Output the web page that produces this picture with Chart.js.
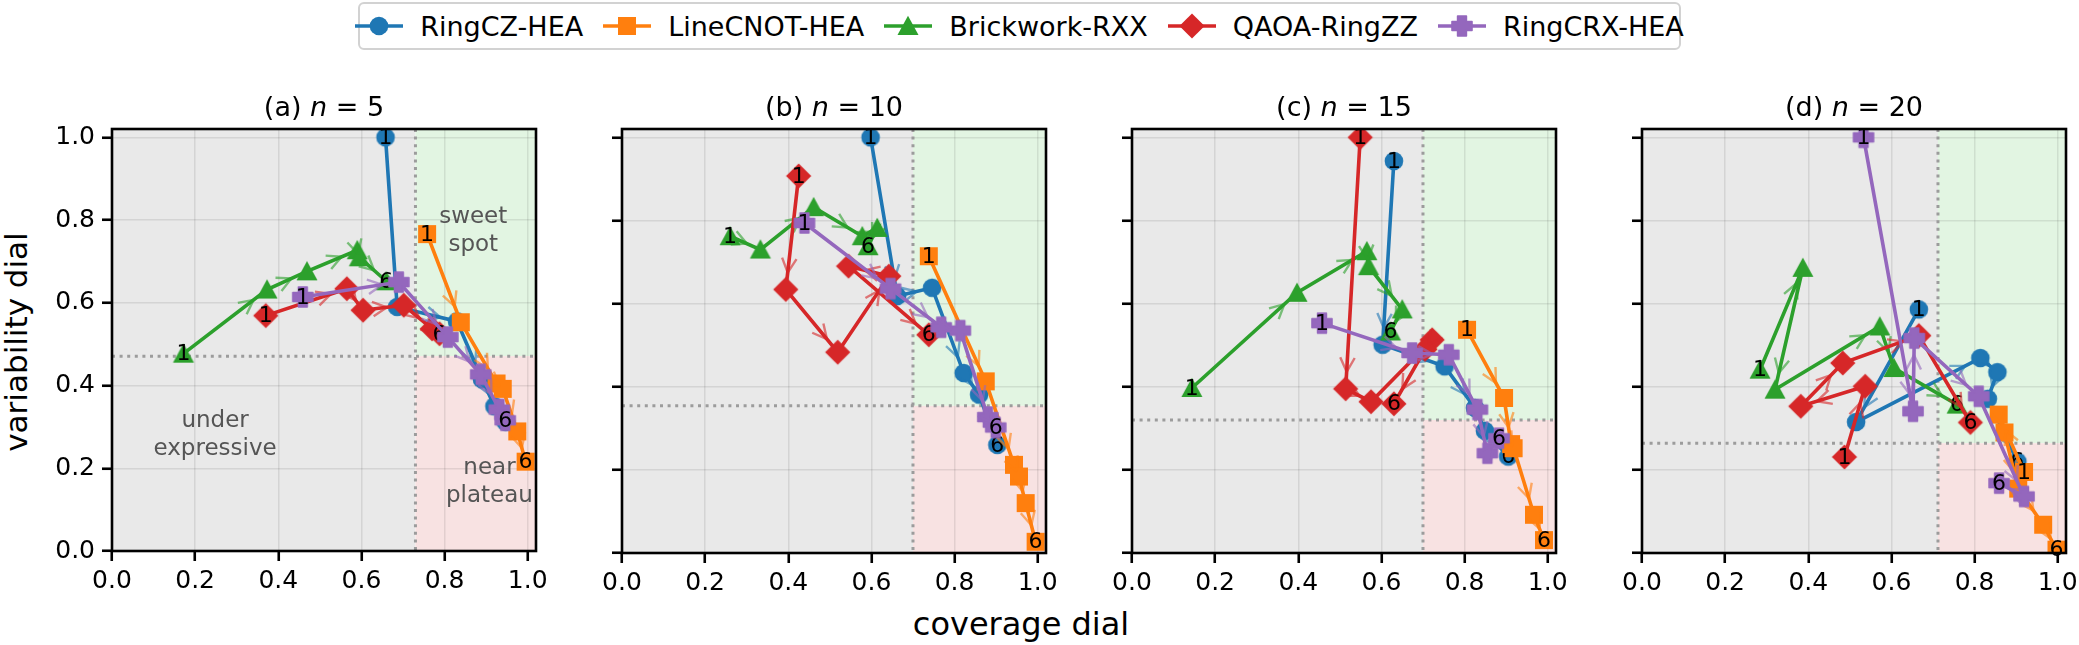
<!DOCTYPE html>
<html>
<head>
<meta charset="utf-8">
<script src="https://cdn.jsdelivr.net/npm/chart.js@4.4.1/dist/chart.umd.min.js"></script>
<style>
html,body{margin:0;padding:0;background:#fff;}
body{width:2079px;height:645px;position:relative;overflow:hidden;font-family:"DejaVu Sans",sans-serif;color:#000;}
canvas.panel{position:absolute;}
.title{position:absolute;top:93px;font-size:27px;line-height:27px;white-space:nowrap;transform:translateX(-50%);}
#legend{position:absolute;left:358px;top:2px;width:1323px;height:48px;box-sizing:border-box;border:2px solid #d2d2d2;border-radius:6px;display:flex;align-items:center;justify-content:center;background:#fff;}
.item{display:flex;align-items:center;margin-right:20px;}
.item:last-child{margin-right:0;}
.item span{font-size:27px;line-height:27px;margin-left:17px;white-space:nowrap;}
#ylabel{position:absolute;left:16px;top:342px;font-size:31px;line-height:31px;white-space:nowrap;transform:translate(-50%,-50%) rotate(-90deg);}
#xlabel{position:absolute;left:1021px;top:608px;font-size:32px;line-height:32px;white-space:nowrap;transform:translateX(-50%);}
</style>
</head>
<body>
<div id="legend"></div>
<div id="ylabel">variability dial</div>
<div id="xlabel">coverage dial</div>
<script>
// ---------------- data ----------------
const modelNames = ['RingCZ-HEA','LineCNOT-HEA','Brickwork-RXX','QAOA-RingZZ','RingCRX-HEA'];
const qubitCounts = [5, 10, 15, 20];
const panelLetters = ['a','b','c','d'];
const layerNumbers = [1, 2, 3, 4, 5, 6];
const tickLabels = ['0.0','0.2','0.4','0.6','0.8','1.0'];
const coverageThreshold = [0.730, 0.700, 0.700, 0.712];
const variabilityThreshold = [0.471, 0.354, 0.320, 0.264];

const ringCZCoverage = [
  [0.658,0.686,0.830,0.890,0.920,0.947],
  [0.598,0.662,0.746,0.822,0.859,0.903],
  [0.630,0.603,0.752,0.825,0.849,0.905],
  [0.666,0.515,0.814,0.855,0.832,0.903]];
const ringCZVariability = [
  [1.000,0.590,0.555,0.415,0.350,0.312],
  [1.000,0.618,0.638,0.433,0.381,0.260],
  [0.943,0.501,0.449,0.349,0.294,0.232],
  [0.586,0.315,0.469,0.435,0.371,0.220]];
const lineCNOTCoverage = [
  [0.758,0.839,0.925,0.940,0.975,0.995],
  [0.738,0.875,0.943,0.955,0.971,0.995],
  [0.806,0.895,0.912,0.918,0.967,0.991],
  [0.919,0.858,0.872,0.905,0.965,0.997]];
const lineCNOTVariability = [
  [0.766,0.553,0.405,0.392,0.289,0.216],
  [0.714,0.413,0.212,0.184,0.120,0.027],
  [0.537,0.373,0.262,0.252,0.092,0.031],
  [0.195,0.333,0.290,0.155,0.068,0.008]];
const brickworkCoverage = [
  [0.172,0.373,0.469,0.590,0.595,0.660],
  [0.260,0.333,0.461,0.578,0.614,0.592],
  [0.144,0.397,0.565,0.569,0.650,0.622],
  [0.284,0.387,0.320,0.572,0.606,0.758]];
const brickworkVariability = [
  [0.477,0.632,0.676,0.727,0.710,0.652],
  [0.762,0.730,0.832,0.762,0.782,0.738],
  [0.397,0.626,0.726,0.690,0.586,0.533],
  [0.441,0.686,0.393,0.545,0.445,0.357]];
const qaoaCoverage = [
  [0.370,0.565,0.604,0.702,0.770,0.788],
  [0.425,0.394,0.519,0.642,0.545,0.738],
  [0.549,0.514,0.575,0.722,0.705,0.630],
  [0.487,0.537,0.382,0.483,0.666,0.790]];
const qaoaVariability = [
  [0.569,0.634,0.582,0.594,0.537,0.525],
  [0.907,0.634,0.483,0.666,0.690,0.525],
  [1.000,0.395,0.364,0.513,0.490,0.359],
  [0.231,0.401,0.353,0.457,0.523,0.314]];
const ringCRXCoverage = [
  [0.459,0.690,0.808,0.887,0.932,0.946],
  [0.439,0.646,0.768,0.814,0.880,0.899],
  [0.457,0.674,0.762,0.831,0.855,0.883],
  [0.533,0.652,0.655,0.810,0.919,0.859]];
const ringCRXVariability = [
  [0.614,0.650,0.517,0.427,0.342,0.316],
  [0.794,0.636,0.543,0.535,0.327,0.302],
  [0.553,0.481,0.477,0.345,0.240,0.276],
  [1.000,0.341,0.517,0.377,0.136,0.168]];

// ---------------- styling ----------------
const seriesCoverage = [ringCZCoverage, lineCNOTCoverage, brickworkCoverage, qaoaCoverage, ringCRXCoverage];
const seriesVariability = [ringCZVariability, lineCNOTVariability, brickworkVariability, qaoaVariability, ringCRXVariability];
const colors = ['#1f77b4','#ff7f0e','#2ca02c','#d62728','#9467bd'];
const shapes = ['circle','square','triangle','diamond','plus'];
const FONT = '"DejaVu Sans", sans-serif';

function makeMarker(shape, color) {
  const S = 30, m = S / 2;
  const c = document.createElement('canvas');
  c.width = S; c.height = S;
  const g = c.getContext('2d');
  g.fillStyle = color;
  g.beginPath();
  if (shape === 'circle') { g.arc(m, m, 9.3, 0, Math.PI * 2); }
  else if (shape === 'square') { g.rect(m - 9, m - 9, 18, 18); }
  else if (shape === 'triangle') { g.moveTo(m, m - 10.2); g.lineTo(m + 10.5, m + 9); g.lineTo(m - 10.5, m + 9); g.closePath(); }
  else if (shape === 'diamond') { g.moveTo(m, m - 12.6); g.lineTo(m + 12.6, m); g.lineTo(m, m + 12.6); g.lineTo(m - 12.6, m); g.closePath(); }
  else if (shape === 'plus') {
    const a = 10, t = 4.4;
    g.moveTo(m - t, m - a); g.lineTo(m + t, m - a); g.lineTo(m + t, m - t); g.lineTo(m + a, m - t);
    g.lineTo(m + a, m + t); g.lineTo(m + t, m + t); g.lineTo(m + t, m + a); g.lineTo(m - t, m + a);
    g.lineTo(m - t, m + t); g.lineTo(m - a, m + t); g.lineTo(m - a, m - t); g.lineTo(m - t, m - t); g.closePath();
  }
  g.fill();
  if (shape === 'plus') { g.strokeStyle = color; g.lineWidth = 1.6; g.lineJoin = 'round'; g.stroke(); }
  return c;
}
const markers = shapes.map((s, i) => makeMarker(s, colors[i]));

function rgba(hex, a) {
  const n = parseInt(hex.slice(1), 16);
  return `rgba(${(n >> 16) & 255},${(n >> 8) & 255},${n & 255},${a})`;
}

// ---------------- legend (HTML) ----------------
const legend = document.getElementById('legend');
modelNames.forEach((name, i) => {
  const it = document.createElement('div'); it.className = 'item';
  const h = document.createElement('canvas'); h.width = 48; h.height = 30;
  const g = h.getContext('2d');
  g.strokeStyle = colors[i]; g.lineWidth = 3.5;
  g.beginPath(); g.moveTo(0, 15); g.lineTo(48, 15); g.stroke();
  g.drawImage(markers[i], 24 - markers[i].width / 2, 15 - markers[i].height / 2);
  const s = document.createElement('span'); s.textContent = name;
  it.appendChild(h); it.appendChild(s); legend.appendChild(it);
});

// ---------------- plugin ----------------
const dialPlugin = {
  id: 'dial',
  beforeDraw(chart, args, o) {
    const {ctx, chartArea: a, scales: {x, y}} = chart;
    const px = x.getPixelForValue(o.xThr), py = y.getPixelForValue(o.yThr);
    ctx.save();
    ctx.fillStyle = '#e9e9e9'; ctx.fillRect(a.left, a.top, px - a.left, a.bottom - a.top);
    ctx.fillStyle = '#e2f5e2'; ctx.fillRect(px, a.top, a.right - px, py - a.top);
    ctx.fillStyle = '#f8e2e2'; ctx.fillRect(px, py, a.right - px, a.bottom - py);
    ctx.restore();
  },
  beforeDatasetsDraw(chart, args, o) {
    const {ctx, chartArea: a, scales: {x, y}} = chart;
    const px = x.getPixelForValue(o.xThr), py = y.getPixelForValue(o.yThr);
    ctx.save();
    ctx.strokeStyle = '#9c9c9c'; ctx.lineWidth = 3; ctx.setLineDash([3, 4.6]);
    ctx.beginPath(); ctx.moveTo(px, a.top); ctx.lineTo(px, a.bottom); ctx.stroke();
    ctx.beginPath(); ctx.moveTo(a.left, py); ctx.lineTo(a.right, py); ctx.stroke();
    ctx.setLineDash([]);
    if (o.notes) {
      ctx.fillStyle = '#555'; ctx.font = '23px ' + FONT; ctx.textAlign = 'center'; ctx.textBaseline = 'middle';
      o.notes.forEach(nt => {
        const cx = x.getPixelForValue(nt.x), cy = y.getPixelForValue(nt.y);
        const lh = 28;
        nt.lines.forEach((ln, k) => ctx.fillText(ln, cx, cy + (k - (nt.lines.length - 1) / 2) * lh));
      });
    }
    ctx.restore();
  },
  afterDatasetDraw(chart, args) {
    const {ctx} = chart;
    const pts = args.meta.data;
    const col = chart.data.datasets[args.index].borderColor;
    ctx.save();
    // direction arrows
    ctx.strokeStyle = rgba(col, 0.6); ctx.lineWidth = 2.4; ctx.lineCap = 'butt';
    const L = 16, ang = 0.47;
    for (let i = 0; i < pts.length - 1; i++) {
      const p = pts[i], q = pts[i + 1];
      const dx = q.x - p.x, dy = q.y - p.y, d = Math.hypot(dx, dy);
      if (d < 2) continue;
      const ux = dx / d, uy = dy / d;
      const t = Math.max(d - 17, d * 0.55);
      const tx = p.x + ux * t, ty = p.y + uy * t;
      ctx.beginPath();
      for (const s of [1, -1]) {
        const c = Math.cos(ang), sn = Math.sin(ang) * s;
        const wx = -ux * c + uy * sn, wy = -uy * c - ux * sn;
        ctx.moveTo(tx + wx * L, ty + wy * L); ctx.lineTo(tx, ty);
      }
      ctx.stroke();
    }
    // first / last layer labels
    ctx.fillStyle = '#000'; ctx.font = '22px ' + FONT; ctx.textAlign = 'center'; ctx.textBaseline = 'middle';
    const f = pts[0], l = pts[pts.length - 1];
    ctx.fillText(String(layerNumbers[0]), f.x, f.y + 1);
    ctx.fillText(String(layerNumbers[layerNumbers.length - 1]), l.x, l.y + 1);
    ctx.restore();
  },
  afterDraw(chart) {
    const {ctx, chartArea: a} = chart;
    ctx.save();
    ctx.strokeStyle = '#000'; ctx.lineWidth = 2.6;
    ctx.strokeRect(a.left, a.top, a.right - a.left, a.bottom - a.top);
    ctx.restore();
  }
};

// ---------------- panels ----------------
const panelLeft = [112, 622, 1132, 1642];
const panelTop = 129, panelSize = 424;

qubitCounts.forEach((nq, p) => {
  const cv = document.createElement('canvas');
  cv.className = 'panel'; cv.width = 564; cv.height = 514;
  cv.style.left = (panelLeft[p] - 110) + 'px'; cv.style.top = (panelTop - 20) + 'px';
  document.body.appendChild(cv);

  const t = document.createElement('div'); t.className = 'title';
  t.style.left = (panelLeft[p] + panelSize / 2) + 'px';
  t.innerHTML = '(' + panelLetters[p] + ') <i>n</i> = ' + nq;
  document.body.appendChild(t);

  const datasets = modelNames.map((name, s) => ({
    label: name,
    data: seriesCoverage[s][p].map((cx, k) => ({x: cx, y: seriesVariability[s][p][k]})),
    showLine: true,
    borderColor: colors[s],
    backgroundColor: colors[s],
    borderWidth: 3.6,
    pointStyle: markers[s],
    pointRadius: 10,
    pointHoverRadius: 10,
    order: modelNames.length - s
  }));

  const gridCfg = {color: 'rgba(0,0,0,0.085)', lineWidth: 1.5, tickColor: '#000', tickWidth: 2.6, tickLength: 10, drawTicks: true};
  const notes = p === 0 ? [
    {x: 0.248, y: 0.281, lines: ['under', 'expressive']},
    {x: 0.869, y: 0.774, lines: ['sweet', 'spot']},
    {x: 0.908, y: 0.166, lines: ['near', 'plateau']}
  ] : null;

  const chart = new Chart(cv, {
    type: 'scatter',
    data: {datasets},
    plugins: [dialPlugin],
    options: {
      responsive: false, animation: false, events: [],
      layout: {padding: {left: 10, top: 20, right: 30, bottom: 10}},
      plugins: {
        legend: {display: false}, tooltip: {enabled: false},
        dial: {xThr: coverageThreshold[p], yThr: variabilityThreshold[p], notes}
      },
      scales: {
        x: {
          type: 'linear', min: 0, max: 1.02, border: {display: false}, grid: gridCfg,
          ticks: {stepSize: 0.2, includeBounds: false, color: '#000', padding: 5, maxRotation: 0, autoSkip: false,
                  font: {family: 'DejaVu Sans', size: 25}, callback: (v, i) => tickLabels[i]},
          afterFit(s) { s.height = 60; }
        },
        y: {
          type: 'linear', min: 0, max: 1.02, border: {display: false}, grid: gridCfg,
          ticks: {stepSize: 0.2, includeBounds: false, color: '#000', padding: 7, display: p === 0,
                  font: {family: 'DejaVu Sans', size: 25}, callback: (v, i) => tickLabels[i]},
          afterFit(s) { s.width = 100; }
        }
      }
    }
  });
  let a = chart.chartArea;
  const dw = panelSize - (a.right - a.left), dh = panelSize - (a.bottom - a.top);
  if (Math.abs(dw) > 0.5 || Math.abs(dh) > 0.5) {
    chart.resize(cv.width + dw, cv.height + dh);
    a = chart.chartArea;
  }
  cv.style.left = (panelLeft[p] - a.left) + 'px';
  cv.style.top = (panelTop - a.top) + 'px';
});
</script>
</body>
</html>
